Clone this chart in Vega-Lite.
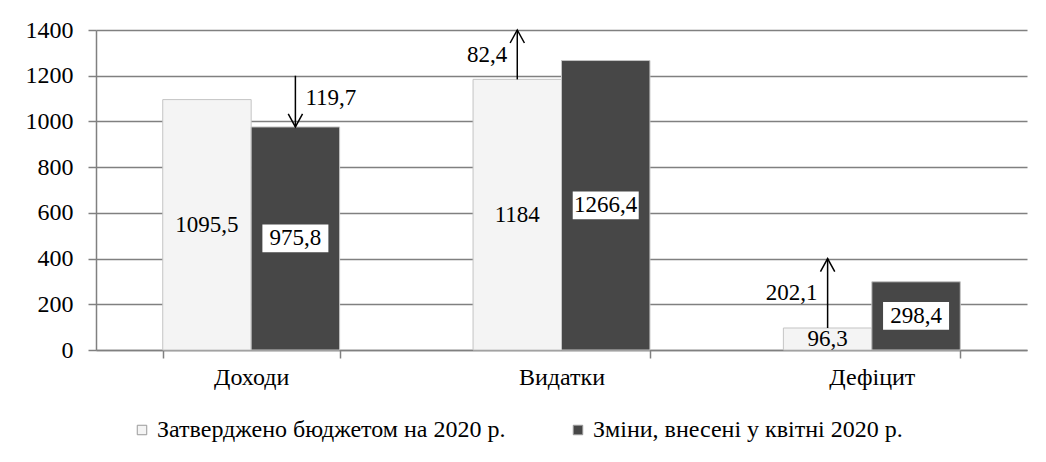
{
  "$schema": "https://vega.github.io/schema/vega-lite/v6.json",
  "width": 931,
  "height": 320,
  "autosize": {"type": "none"},
  "padding": {"left": 96, "top": 30, "right": 19, "bottom": 112},
  "background": "white",
  "config": {
    "view": {"stroke": null},
    "font": "Liberation Serif, DejaVu Serif, serif",
    "locale": {"number": {"decimal": ",", "thousands": " ", "grouping": [3], "currency": ["", ""]}}
  },
  "datasets": {
    "bars": [
      {"category": "Доходи", "series": "Затверджено бюджетом на 2020 р.", "value": 1095.5},
      {"category": "Доходи", "series": "Зміни, внесені у квітні 2020 р.", "value": 975.8},
      {"category": "Видатки", "series": "Затверджено бюджетом на 2020 р.", "value": 1184},
      {"category": "Видатки", "series": "Зміни, внесені у квітні 2020 р.", "value": 1266.4},
      {"category": "Дефіцит", "series": "Затверджено бюджетом на 2020 р.", "value": 96.3},
      {"category": "Дефіцит", "series": "Зміни, внесені у квітні 2020 р.", "value": 298.4}
    ],
    "arrows": [
      {"category": "Доходи", "series": "Зміни, внесені у квітні 2020 р.", "from": 1200, "to": 975.8, "change": 119.7},
      {"category": "Видатки", "series": "Затверджено бюджетом на 2020 р.", "from": 1184, "to": 1400, "change": 82.4},
      {"category": "Дефіцит", "series": "Затверджено бюджетом на 2020 р.", "from": 96.3, "to": 400, "change": 202.1}
    ]
  },
  "layer": [
    {
      "layer": [
        {
          "data": {"name": "bars"},
          "mark": {"type": "bar", "stroke": "#c4c4c4", "strokeWidth": 1},
          "encoding": {
            "x": {
              "field": "category", "type": "nominal",
              "sort": ["Доходи", "Видатки", "Дефіцит"],
              "scale": {"paddingInner": 0.43, "paddingOuter": 0.215},
              "axis": {
                "title": null, "labelAngle": 0, "tickBand": "extent", "tickSize": 8,
                "labelPadding": 7, "labelFontSize": 24, "labelColor": "black",
                "labelFont": "Liberation Serif, DejaVu Serif, serif",
                "domainColor": "#808080", "domainWidth": 1.5,
                "tickColor": "#808080", "tickWidth": 1.5, "grid": false
              }
            },
            "xOffset": {"field": "series", "type": "nominal", "sort": ["Затверджено бюджетом на 2020 р.", "Зміни, внесені у квітні 2020 р."]},
            "y": {
              "field": "value", "type": "quantitative", "title": null,
              "scale": {"domain": [0, 1400], "nice": false},
              "axis": {
                "title": null, "values": [0, 200, 400, 600, 800, 1000, 1200, 1400], "format": "d",
                "tickSize": 8, "labelPadding": 15, "labelFontSize": 24, "labelColor": "black",
                "labelFont": "Liberation Serif, DejaVu Serif, serif",
                "domainColor": "#808080", "domainWidth": 1.5,
                "tickColor": "#808080", "tickWidth": 1.5,
                "grid": true, "gridColor": "#808080", "gridWidth": 1.5
              }
            },
            "color": {
              "field": "series", "type": "nominal",
              "sort": ["Затверджено бюджетом на 2020 р.", "Зміни, внесені у квітні 2020 р."],
              "scale": {"range": ["#f4f4f4", "#474747"]},
              "legend": {
                "title": null, "orient": "none", "direction": "horizontal",
                "legendX": 34, "legendY": 388,
                "symbolType": "square", "symbolSize": 90,
                "symbolStrokeColor": "#9a9a9a", "symbolStrokeWidth": 1,
                "labelFontSize": 24, "labelColor": "black", "labelFont": "Liberation Serif, DejaVu Serif, serif",
                "labelOffset": 3, "columnPadding": 60, "labelLimit": 600
              }
            }
          }
        },
        {
          "data": {"name": "arrows"},
          "mark": {"type": "rule", "color": "black", "strokeWidth": 1.5},
          "encoding": {
            "x": {"field": "category", "type": "nominal", "sort": ["Доходи", "Видатки", "Дефіцит"]},
            "xOffset": {"field": "series", "type": "nominal", "sort": ["Затверджено бюджетом на 2020 р.", "Зміни, внесені у квітні 2020 р."]},
            "y": {"field": "from", "type": "quantitative", "title": null},
            "y2": {"field": "to"}
          }
        },
        {
          "data": {"name": "arrows"},
          "mark": {"type": "point", "filled": false, "stroke": "black", "strokeWidth": 1.5, "size": 676, "opacity": 1},
          "encoding": {
            "x": {"field": "category", "type": "nominal", "sort": ["Доходи", "Видатки", "Дефіцит"]},
            "xOffset": {"field": "series", "type": "nominal", "sort": ["Затверджено бюджетом на 2020 р.", "Зміни, внесені у квітні 2020 р."]},
            "y": {"field": "to", "type": "quantitative", "title": null},
            "shape": {
              "condition": {"test": "datum.to < datum.from", "value": "M-0.55,-1L0,0L0.55,-1"},
              "value": "M-0.55,1L0,0L0.55,1"
            }
          }
        },
        {
          "data": {"name": "arrows"},
          "transform": [
            {"filter": "datum.to < datum.from"},
            {"fold": ["from", "to"], "as": ["end", "pos"]}
          ],
          "mark": {"type": "text", "align": "left", "baseline": "middle", "dx": 10, "dy": -3, "fontSize": 23, "color": "black"},
          "encoding": {
            "x": {"field": "category", "type": "nominal", "sort": ["Доходи", "Видатки", "Дефіцит"]},
            "xOffset": {"field": "series", "type": "nominal", "sort": ["Затверджено бюджетом на 2020 р.", "Зміни, внесені у квітні 2020 р."]},
            "y": {"aggregate": "mean", "field": "pos", "type": "quantitative", "title": null},
            "text": {"field": "change", "type": "quantitative", "format": ".1f"}
          }
        },
        {
          "data": {"name": "arrows"},
          "transform": [
            {"filter": "datum.to >= datum.from"},
            {"fold": ["from", "to"], "as": ["end", "pos"]}
          ],
          "mark": {"type": "text", "align": "right", "baseline": "middle", "dx": -10, "fontSize": 23, "color": "black"},
          "encoding": {
            "x": {"field": "category", "type": "nominal", "sort": ["Доходи", "Видатки", "Дефіцит"]},
            "xOffset": {"field": "series", "type": "nominal", "sort": ["Затверджено бюджетом на 2020 р.", "Зміни, внесені у квітні 2020 р."]},
            "y": {"aggregate": "mean", "field": "pos", "type": "quantitative", "title": null},
            "text": {"field": "change", "type": "quantitative", "format": ".1f"}
          }
        }
      ]
    },
    {
      "data": {"name": "bars"},
      "layer": [
        {
          "transform": [{"filter": "datum.series == 'Зміни, внесені у квітні 2020 р.'"}],
          "mark": {"type": "point", "filled": true, "fill": "white", "stroke": null, "opacity": 1, "size": 4356, "shape": "M-1,-0.42H1V0.42H-1Z"},
          "encoding": {
            "x": {"field": "category", "type": "nominal", "sort": ["Доходи", "Видатки", "Дефіцит"]},
            "xOffset": {"field": "series", "type": "nominal", "sort": ["Затверджено бюджетом на 2020 р.", "Зміни, внесені у квітні 2020 р."]},
            "y": {"field": "value", "type": "quantitative", "scale": {"domain": [0, 2800], "nice": false}, "axis": null}
          }
        },
        {
          "mark": {"type": "text", "baseline": "middle", "fontSize": 23, "color": "black"},
          "encoding": {
            "x": {"field": "category", "type": "nominal", "sort": ["Доходи", "Видатки", "Дефіцит"]},
            "xOffset": {"field": "series", "type": "nominal", "sort": ["Затверджено бюджетом на 2020 р.", "Зміни, внесені у квітні 2020 р."]},
            "y": {"field": "value", "type": "quantitative", "scale": {"domain": [0, 2800], "nice": false}, "axis": null},
            "text": {"field": "value", "type": "quantitative", "format": ".1~f"}
          }
        }
      ]
    }
  ],
  "resolve": {"scale": {"y": "independent"}}
}
